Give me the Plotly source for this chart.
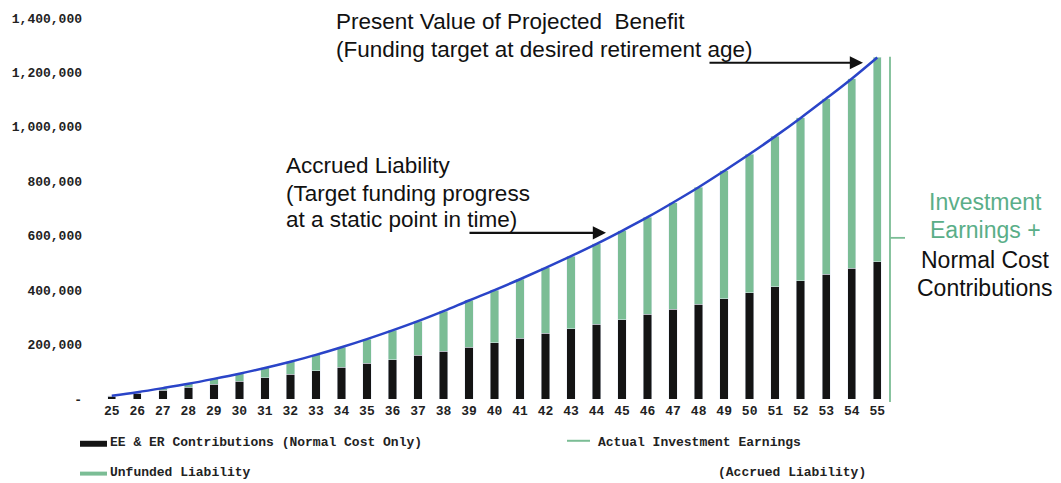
import plotly.graph_objects as go

ages = list(range(25, 56))
# EE & ER contributions (normal cost only) - black bars
contributions = [10000, 22000, 33000, 44000, 54000, 66000, 78000, 91000, 104000, 117000,
                 131000, 145000, 160000, 175000, 190000, 206000, 224000, 241000, 258000, 274000,
                 292000, 311000, 330000, 348000, 369000, 390000, 412000, 434000, 458000, 481000,
                 505000]
# Unfunded liability - green bars stacked on top
unfunded = [2000, 3000, 7000, 12000, 20000, 27000, 36000, 46000, 58000, 73000,
            89000, 107000, 126000, 148000, 172000, 194000, 216000, 241000, 267000, 296000,
            326000, 357000, 392000, 430000, 469000, 510000, 553000, 599000, 646000, 696000,
            750000]
# Accrued liability curve
accrued = [12000, 25000, 40000, 56000, 74000, 93000, 114000, 137000, 162000, 190000,
           220000, 252000, 286000, 323000, 362000, 400000, 440000, 482000, 525000, 570000,
           618000, 668000, 722000, 778000, 838000, 900000, 965000, 1033000, 1104000, 1177000,
           1255000]
y_tickvals = [0, 200000, 400000, 600000, 800000, 1000000, 1200000, 1400000]
y_ticktext = ["-", "200,000", "400,000", "600,000", "800,000", "1,000,000", "1,200,000", "1,400,000"]

W, H = 1061, 483
ML, MR, MT, MB = 99, 171, 16, 84
PW, PH = W - ML - MR, H - MT - MB

def px(x):
    return (x - ML) / PW

def py(y):
    return (H - MB - y) / PH

BLACK = "#141414"
GREEN = "#7bbd95"
GREEN_TXT = "#5aae88"
BLUE = "#2a44c8"
MONO = "Liberation Mono"
SANS = "Liberation Sans, Arial"

fig = go.Figure()
fig.add_bar(x=ages, y=contributions, marker_color=BLACK, width=0.33,
            name="EE & ER Contributions (Normal Cost Only)")
fig.add_bar(x=ages, y=unfunded, marker_color=GREEN, width=0.33, name="Unfunded Liability")
fig.add_scatter(x=ages, y=accrued, mode="lines", line=dict(color=BLUE, width=2.5, shape="spline"),
                name="Accrued Liability")

fig.update_layout(
    width=W, height=H, barmode="stack", showlegend=False,
    margin=dict(l=ML, r=MR, t=MT, b=MB),
    paper_bgcolor="white", plot_bgcolor="white",
    xaxis=dict(range=[24.5, 55.5], tickvals=ages, ticktext=[str(a) for a in ages],
               showgrid=False, zeroline=False, showline=False,
               tickfont=dict(family=MONO, size=13, color="#222", weight="bold"),
               ticklabelstandoff=2),
    yaxis=dict(range=[0, 1400000], tickvals=y_tickvals, ticktext=y_ticktext,
               showgrid=False, zeroline=False, showline=False,
               tickfont=dict(family=MONO, size=13, color="#222", weight="bold"),
               ticklabelstandoff=16),
)

ann = []
def text(x, y, s, size=22, color="#111", family=SANS, anchor="left"):
    ann.append(dict(xref="paper", yref="paper", x=px(x), y=py(y), text=s, showarrow=False,
                    xanchor=anchor, yanchor="middle",
                    font=dict(family=family, size=size, color=color)))

text(334, 20, "Present Value of Projected  Benefit", 22.5)
text(334, 48, "(Funding target at desired retirement age)", 22.5)
text(284, 164, "Accrued Liability", 22.5)
text(284, 192, "(Target funding progress", 22.5)
text(284, 219, "at a static point in time)", 22.5)
text(985, 201, "Investment", 23, GREEN_TXT, anchor="center")
text(985, 229, "Earnings +", 23, GREEN_TXT, anchor="center")
text(985, 259, "Normal Cost", 23, "#111", anchor="center")
text(985, 287, "Contributions", 23, "#111", anchor="center")

# legend texts
mono_legend = dict(family=MONO, size=13, color="#222")
for (x, y, s) in [(108, 443, "<b>EE &amp; ER Contributions (Normal Cost Only)</b>"),
                  (108, 473, "<b>Unfunded Liability</b>"),
                  (596, 443, "<b>Actual Investment Earnings</b>"),
                  (716, 473, "<b>(Accrued Liability)</b>")]:
    ann.append(dict(xref="paper", yref="paper", x=px(x), y=py(y), text=s, showarrow=False,
                    xanchor="left", yanchor="middle", font=mono_legend))

# arrows
for (hx, hy, tx) in [(863, 61, 708), (606, 232, 468)]:
    ann.append(dict(xref="paper", yref="paper", x=px(hx), y=py(hy), text="", showarrow=True,
                    ax=tx - hx, ay=0, arrowhead=2, arrowsize=1.2, arrowwidth=2.2,
                    arrowcolor="#111"))
fig.update_layout(annotations=ann)

shapes = [
    dict(type="rect", xref="paper", yref="paper", x0=px(80), x1=px(107), y0=py(441), y1=py(447),
         fillcolor=BLACK, line_width=0),
    dict(type="rect", xref="paper", yref="paper", x0=px(80), x1=px(107), y0=py(472), y1=py(476),
         fillcolor=GREEN, line_width=0),
    dict(type="line", xref="paper", yref="paper", x0=px(567), x1=px(590), y0=py(441), y1=py(441),
         line=dict(color=GREEN, width=2)),
    dict(type="line", xref="paper", yref="paper", x0=px(890), x1=px(890), y0=py(55), y1=py(402),
         line=dict(color=GREEN, width=1.8)),
    dict(type="line", xref="paper", yref="paper", x0=px(890), x1=px(905), y0=py(237), y1=py(237),
         line=dict(color=GREEN, width=1.8)),
]
fig.update_layout(shapes=shapes)

fig.write_html("out.html", config={"displayModeBar": False},
               post_script="document.body.style.margin='0px';document.body.style.overflow='hidden';")
